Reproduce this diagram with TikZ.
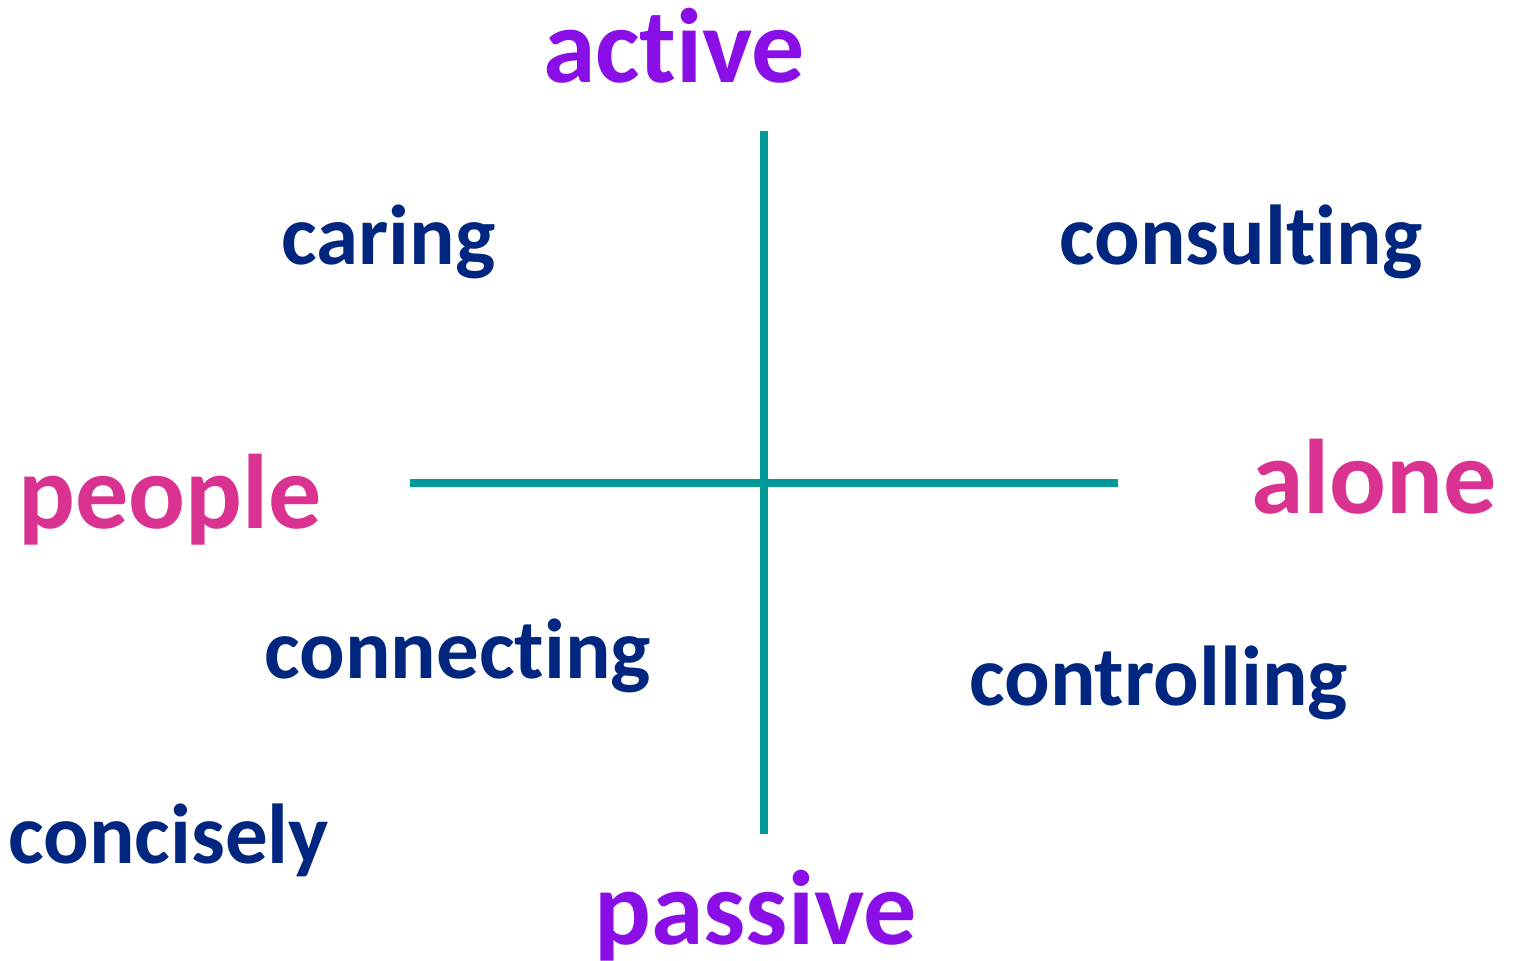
\documentclass[tikz,border=0pt]{standalone}
\usepackage{fontspec}
\setmainfont{Carlito}[Ligatures={NoCommon,NoContextual}]
\usepackage{xcolor}
\usepackage{tikz}
\usetikzlibrary{calc,positioning}

\definecolor{axispurple}{HTML}{8A0FE6}
\definecolor{axispink}{HTML}{DA3290}
\definecolor{wordnavy}{HTML}{00267F}
\definecolor{axisteal}{HTML}{009999}

\begin{document}
\begin{tikzpicture}[x=1pt,y=-1pt,
		bigword/.style={inner sep=0pt,anchor=base west,font=\fontsize{106}{112}\selectfont\bfseries},
		smallword/.style={inner sep=0pt,anchor=base west,text=wordnavy,font=\fontsize{85}{92}\selectfont\bfseries},
		axisline/.style={axisteal,line width=8pt}]
			\useasboundingbox (0,0) rectangle (1513,961);
			\node[bigword,text=axispurple] at (543,82) (active) {active};
			\node[bigword,text=axispurple] at (594,944) (passive) {passive};
			\node[bigword,text=axispink] at (18,528) (people) {people};
			\node[bigword,text=axispink] at (1251,513) (alone) {alone};
			\node[smallword] at (281,264) (caring) {caring};
			\node[smallword] at (1059,264) (consulting) {consulting};
			\node[smallword] at (264,678) (connecting) {connecting};
			\node[smallword] at (969,705) (controlling) {controlling};
			\node[smallword] at (8,863) (concisely) {concisely};
			\coordinate (top) at (764,131);
			\coordinate (bottom) at (764,834);
			\coordinate (left) at (410,483);
			\coordinate (right) at (1118,483);
			\draw[axisline] (top) -- (bottom);
			\draw[axisline] (left) -- (right);
		\end{tikzpicture}
\end{document}
